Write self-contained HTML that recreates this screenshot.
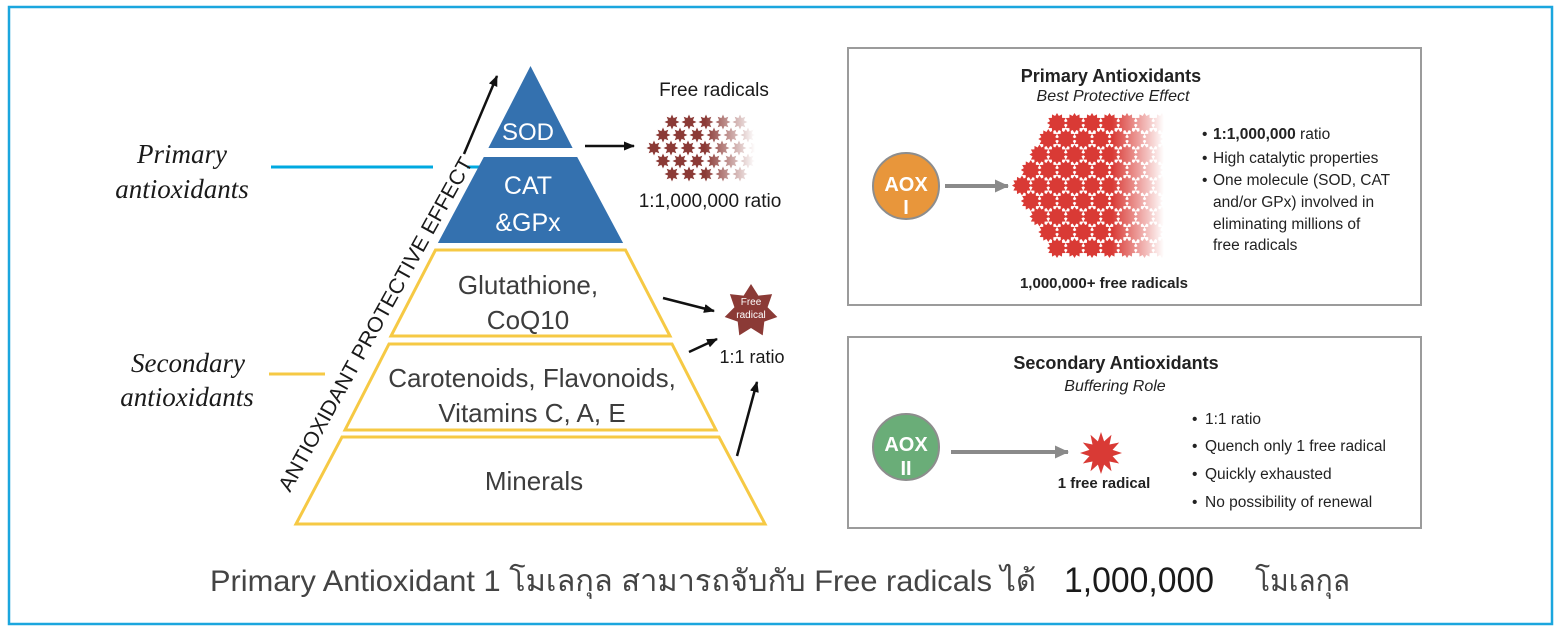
<!DOCTYPE html>
<html><head><meta charset="utf-8"><style>
html,body{margin:0;padding:0;background:#fff;}
svg{display:block;}
</style></head><body>
<svg width="1560" height="628" viewBox="0 0 1560 628" xmlns="http://www.w3.org/2000/svg" font-family="'Liberation Sans', Arial, sans-serif">
<defs>
  <marker id="ab" markerWidth="11" markerHeight="9" refX="10" refY="4.5" orient="auto" markerUnits="userSpaceOnUse">
    <path d="M0,0 L11,4.5 L0,9 Z" fill="#111"/>
  </marker>
  <marker id="ag" markerWidth="14" markerHeight="13" refX="13" refY="6.5" orient="auto" markerUnits="userSpaceOnUse">
    <path d="M0,0 L14,6.5 L0,13 Z" fill="#8a8a8a"/>
  </marker>
  <path id="ss" d="M0,-7.5 L1.61,-3.88 L5.3,-5.3 L3.88,-1.61 L7.5,0 L3.88,1.61 L5.3,5.3 L1.61,3.88 L0,7.5 L-1.61,3.88 L-5.3,5.3 L-3.88,1.61 L-7.5,0 L-3.88,-1.61 L-5.3,-5.3 L-1.61,-3.88 Z" fill="#8b3a36"/>
  <path id="bs" d="M10,0 L6.95,1.86 L8.66,5 L5.09,5.09 L5,8.66 L1.86,6.95 L0,10 L-1.86,6.95 L-5,8.66 L-5.09,5.09 L-8.66,5 L-6.95,1.86 L-10,0 L-6.95,-1.86 L-8.66,-5 L-5.09,-5.09 L-5,-8.66 L-1.86,-6.95 L0,-10 L1.86,-6.95 L5,-8.66 L5.09,-5.09 L8.66,-5 L6.95,-1.86 Z" fill="#d93a35"/>
  <linearGradient id="g1" gradientUnits="userSpaceOnUse" x1="705" y1="0" x2="755" y2="0">
    <stop offset="0" stop-color="#fff"/><stop offset="1" stop-color="#000"/>
  </linearGradient>
  <mask id="m1" maskUnits="userSpaceOnUse" x="630" y="100" width="160" height="90">
    <rect x="630" y="100" width="160" height="90" fill="url(#g1)"/>
  </mask>
  <linearGradient id="g2" gradientUnits="userSpaceOnUse" x1="1112" y1="0" x2="1164" y2="0">
    <stop offset="0" stop-color="#fff"/><stop offset="1" stop-color="#000"/>
  </linearGradient>
  <mask id="m2" maskUnits="userSpaceOnUse" x="1000" y="100" width="190" height="170">
    <rect x="1000" y="100" width="190" height="170" fill="url(#g2)"/>
  </mask>
</defs>

<!-- outer border -->
<rect x="9" y="7" width="1543" height="617" fill="none" stroke="#1ba6de" stroke-width="2.5"/>

<!-- left labels -->
<g font-family="'Liberation Serif', 'Times New Roman', serif" font-style="italic" font-size="27" fill="#1a1a1a" text-anchor="middle">
  <text x="182" y="163">Primary</text>
  <text x="182" y="198">antioxidants</text>
  <text x="188" y="372">Secondary</text>
  <text x="187" y="406">antioxidants</text>
</g>
<line x1="271" y1="167" x2="433" y2="167" stroke="#00a9e0" stroke-width="3"/>
<line x1="467" y1="167" x2="481" y2="167" stroke="#00a9e0" stroke-width="3"/>
<line x1="269" y1="374" x2="325" y2="374" stroke="#f6c944" stroke-width="3"/>

<!-- pyramid -->
<polygon points="530.5,66 488.4,148 572.6,148" fill="#3471af"/>
<polygon points="483.8,157 577.2,157 623.1,243 437.9,243" fill="#3471af"/>
<g fill="none" stroke="#f6c944" stroke-width="3" stroke-linejoin="miter">
  <polygon points="435.5,250 625.5,250 670,336 391,336"/>
  <polygon points="389,344 672,344 716,430 345,430"/>
  <polygon points="342,437 719,437 765,524 296,524"/>
</g>
<g text-anchor="middle" fill="#fff" font-size="24">
  <text x="528" y="140">SOD</text>
  <text x="528" y="194" font-size="25">CAT</text>
  <text x="528" y="231" font-size="25">&amp;GPx</text>
</g>
<g text-anchor="middle" fill="#3d3d3d" font-size="26">
  <text x="528" y="294">Glutathione,</text>
  <text x="528" y="329">CoQ10</text>
  <text x="532" y="387">Carotenoids, Flavonoids,</text>
  <text x="532" y="422">Vitamins C, A, E</text>
  <text x="534" y="490">Minerals</text>
</g>

<!-- rotated label + arrow -->
<text transform="translate(290,493) rotate(-61)" font-size="21" fill="#1a1a1a" textLength="378" lengthAdjust="spacingAndGlyphs">ANTIOXIDANT PROTECTIVE EFFECT</text>
<line x1="464" y1="154" x2="497" y2="76" stroke="#111" stroke-width="2.5" marker-end="url(#ab)"/>

<!-- free radicals cluster (small) -->
<text x="714" y="96" font-size="19" text-anchor="middle" fill="#1a1a1a">Free radicals</text>
<line x1="585" y1="146" x2="634" y2="146" stroke="#111" stroke-width="2.5" marker-end="url(#ab)"/>
<g mask="url(#m1)">
  <use href="#ss" x="672" y="122"/><use href="#ss" x="689" y="122"/><use href="#ss" x="706" y="122"/><use href="#ss" x="723" y="122"/><use href="#ss" x="740" y="122"/>
  <use href="#ss" x="663" y="135"/><use href="#ss" x="680" y="135"/><use href="#ss" x="697" y="135"/><use href="#ss" x="714" y="135"/><use href="#ss" x="731" y="135"/><use href="#ss" x="748" y="135"/>
  <use href="#ss" x="654" y="148"/><use href="#ss" x="671" y="148"/><use href="#ss" x="688" y="148"/><use href="#ss" x="705" y="148"/><use href="#ss" x="722" y="148"/><use href="#ss" x="739" y="148"/><use href="#ss" x="756" y="148"/>
  <use href="#ss" x="663" y="161"/><use href="#ss" x="680" y="161"/><use href="#ss" x="697" y="161"/><use href="#ss" x="714" y="161"/><use href="#ss" x="731" y="161"/><use href="#ss" x="748" y="161"/>
  <use href="#ss" x="672" y="174"/><use href="#ss" x="689" y="174"/><use href="#ss" x="706" y="174"/><use href="#ss" x="723" y="174"/><use href="#ss" x="740" y="174"/>
</g>
<text x="710" y="207" font-size="19" text-anchor="middle" fill="#1a1a1a">1:1,000,000 ratio</text>

<!-- single free radical -->
<path transform="translate(751,311)" d="M0,-27 L7.38,-15.32 L21.11,-16.83 L16.57,-3.78 L26.32,6.01 L13.29,10.6 L11.72,24.33 L0,17 L-11.72,24.33 L-13.29,10.6 L-26.32,6.01 L-16.57,-3.78 L-21.11,-16.83 L-7.38,-15.32 Z" fill="#8b3a36"/>
<text x="751" y="305" font-size="10" fill="#fff" text-anchor="middle">Free</text>
<text x="751" y="318" font-size="10" fill="#fff" text-anchor="middle">radical</text>
<text x="752" y="363" font-size="18" text-anchor="middle" fill="#1a1a1a">1:1 ratio</text>
<line x1="663" y1="298" x2="714" y2="311" stroke="#111" stroke-width="2.5" marker-end="url(#ab)"/>
<line x1="689" y1="352" x2="717" y2="339" stroke="#111" stroke-width="2.5" marker-end="url(#ab)"/>
<line x1="737" y1="456" x2="757" y2="382" stroke="#111" stroke-width="2.5" marker-end="url(#ab)"/>

<!-- Primary box -->
<rect x="848" y="48" width="573" height="257" fill="#fff" stroke="#9b9b9b" stroke-width="2"/>
<text x="1111" y="82" font-size="18" font-weight="bold" text-anchor="middle" fill="#222">Primary Antioxidants</text>
<text x="1113" y="101" font-size="16" font-style="italic" text-anchor="middle" fill="#222">Best Protective Effect</text>
<circle cx="906" cy="186" r="33" fill="#e8963b" stroke="#8d8d8d" stroke-width="2"/>
<text x="906" y="191" font-size="20" font-weight="bold" fill="#fff" text-anchor="middle">AOX</text>
<text x="906" y="214" font-size="20" font-weight="bold" fill="#fff" text-anchor="middle">I</text>
<line x1="945" y1="186" x2="1008" y2="186" stroke="#8a8a8a" stroke-width="4" marker-end="url(#ag)"/>
<g mask="url(#m2)">
  <use href="#bs" x="1057" y="123"/><use href="#bs" x="1074.5" y="123"/><use href="#bs" x="1092" y="123"/><use href="#bs" x="1109.5" y="123"/><use href="#bs" x="1127" y="123"/><use href="#bs" x="1144.5" y="123"/><use href="#bs" x="1162" y="123"/>
  <use href="#bs" x="1048.3" y="139"/><use href="#bs" x="1065.8" y="139"/><use href="#bs" x="1083.3" y="139"/><use href="#bs" x="1100.8" y="139"/><use href="#bs" x="1118.3" y="139"/><use href="#bs" x="1135.8" y="139"/><use href="#bs" x="1153.3" y="139"/>
  <use href="#bs" x="1039.5" y="154.5"/><use href="#bs" x="1057" y="154.5"/><use href="#bs" x="1074.5" y="154.5"/><use href="#bs" x="1092" y="154.5"/><use href="#bs" x="1109.5" y="154.5"/><use href="#bs" x="1127" y="154.5"/><use href="#bs" x="1144.5" y="154.5"/><use href="#bs" x="1162" y="154.5"/>
  <use href="#bs" x="1030.8" y="170"/><use href="#bs" x="1048.3" y="170"/><use href="#bs" x="1065.8" y="170"/><use href="#bs" x="1083.3" y="170"/><use href="#bs" x="1100.8" y="170"/><use href="#bs" x="1118.3" y="170"/><use href="#bs" x="1135.8" y="170"/><use href="#bs" x="1153.3" y="170"/>
  <use href="#bs" x="1022" y="185.5"/><use href="#bs" x="1039.5" y="185.5"/><use href="#bs" x="1057" y="185.5"/><use href="#bs" x="1074.5" y="185.5"/><use href="#bs" x="1092" y="185.5"/><use href="#bs" x="1109.5" y="185.5"/><use href="#bs" x="1127" y="185.5"/><use href="#bs" x="1144.5" y="185.5"/><use href="#bs" x="1162" y="185.5"/>
  <use href="#bs" x="1030.8" y="201"/><use href="#bs" x="1048.3" y="201"/><use href="#bs" x="1065.8" y="201"/><use href="#bs" x="1083.3" y="201"/><use href="#bs" x="1100.8" y="201"/><use href="#bs" x="1118.3" y="201"/><use href="#bs" x="1135.8" y="201"/><use href="#bs" x="1153.3" y="201"/>
  <use href="#bs" x="1039.5" y="216.5"/><use href="#bs" x="1057" y="216.5"/><use href="#bs" x="1074.5" y="216.5"/><use href="#bs" x="1092" y="216.5"/><use href="#bs" x="1109.5" y="216.5"/><use href="#bs" x="1127" y="216.5"/><use href="#bs" x="1144.5" y="216.5"/><use href="#bs" x="1162" y="216.5"/>
  <use href="#bs" x="1048.3" y="232"/><use href="#bs" x="1065.8" y="232"/><use href="#bs" x="1083.3" y="232"/><use href="#bs" x="1100.8" y="232"/><use href="#bs" x="1118.3" y="232"/><use href="#bs" x="1135.8" y="232"/><use href="#bs" x="1153.3" y="232"/>
  <use href="#bs" x="1057" y="248"/><use href="#bs" x="1074.5" y="248"/><use href="#bs" x="1092" y="248"/><use href="#bs" x="1109.5" y="248"/><use href="#bs" x="1127" y="248"/><use href="#bs" x="1144.5" y="248"/><use href="#bs" x="1162" y="248"/>
</g>
<text x="1104" y="288" font-size="15" font-weight="bold" text-anchor="middle" fill="#222">1,000,000+ free radicals</text>
<g font-size="15.5" fill="#222">
  <text x="1202" y="139">•</text><text x="1213" y="139"><tspan font-weight="bold">1:1,000,000</tspan> ratio</text>
  <text x="1202" y="163">•</text><text x="1213" y="163">High catalytic properties</text>
  <text x="1202" y="185">•</text><text x="1213" y="185">One molecule (SOD, CAT</text>
  <text x="1213" y="207">and/or GPx) involved in</text>
  <text x="1213" y="229">eliminating millions of</text>
  <text x="1213" y="250">free radicals</text>
</g>

<!-- Secondary box -->
<rect x="848" y="337" width="573" height="191" fill="#fff" stroke="#9b9b9b" stroke-width="2"/>
<text x="1116" y="369" font-size="18" font-weight="bold" text-anchor="middle" fill="#222">Secondary Antioxidants</text>
<text x="1115" y="391" font-size="16" font-style="italic" text-anchor="middle" fill="#222">Buffering Role</text>
<circle cx="906" cy="447" r="33" fill="#6aad78" stroke="#8d8d8d" stroke-width="2"/>
<text x="906" y="451" font-size="20" font-weight="bold" fill="#fff" text-anchor="middle">AOX</text>
<text x="906" y="475" font-size="20" font-weight="bold" fill="#fff" text-anchor="middle">II</text>
<line x1="951" y1="452" x2="1068" y2="452" stroke="#8a8a8a" stroke-width="4" marker-end="url(#ag)"/>
<path transform="translate(1101,453)" d="M21,0 L11.59,3.11 L18.19,10.5 L8.49,8.49 L10.5,18.19 L3.11,11.59 L0,21 L-3.11,11.59 L-10.5,18.19 L-8.49,8.49 L-18.19,10.5 L-11.59,3.11 L-21,0 L-11.59,-3.11 L-18.19,-10.5 L-8.49,-8.49 L-10.5,-18.19 L-3.11,-11.59 L0,-21 L3.11,-11.59 L10.5,-18.19 L8.49,-8.49 L18.19,-10.5 L11.59,-3.11 Z" fill="#d93a35"/>
<text x="1104" y="488" font-size="15" font-weight="bold" text-anchor="middle" fill="#222">1 free radical</text>
<g font-size="15.5" fill="#222">
  <text x="1192" y="424">•</text><text x="1205" y="424">1:1 ratio</text>
  <text x="1192" y="451">•</text><text x="1205" y="451">Quench only 1 free radical</text>
  <text x="1192" y="479">•</text><text x="1205" y="479">Quickly exhausted</text>
  <text x="1192" y="507">•</text><text x="1205" y="507">No possibility of renewal</text>
</g>

<!-- bottom caption -->
<g fill="#444" font-family="'Liberation Sans', 'Noto Sans CJK SC', sans-serif">
  <text x="210" y="591" font-size="30" textLength="826" lengthAdjust="spacingAndGlyphs">Primary Antioxidant 1 โมเลกุล สามารถจับกับ Free radicals ได้</text>
  <text x="1064" y="592" font-size="35" textLength="150" lengthAdjust="spacingAndGlyphs" fill="#1a1a1a">1,000,000</text>
  <text x="1255" y="591" font-size="30" textLength="95" lengthAdjust="spacingAndGlyphs">โมเลกุล</text>
</g>
</svg>
</body></html>
